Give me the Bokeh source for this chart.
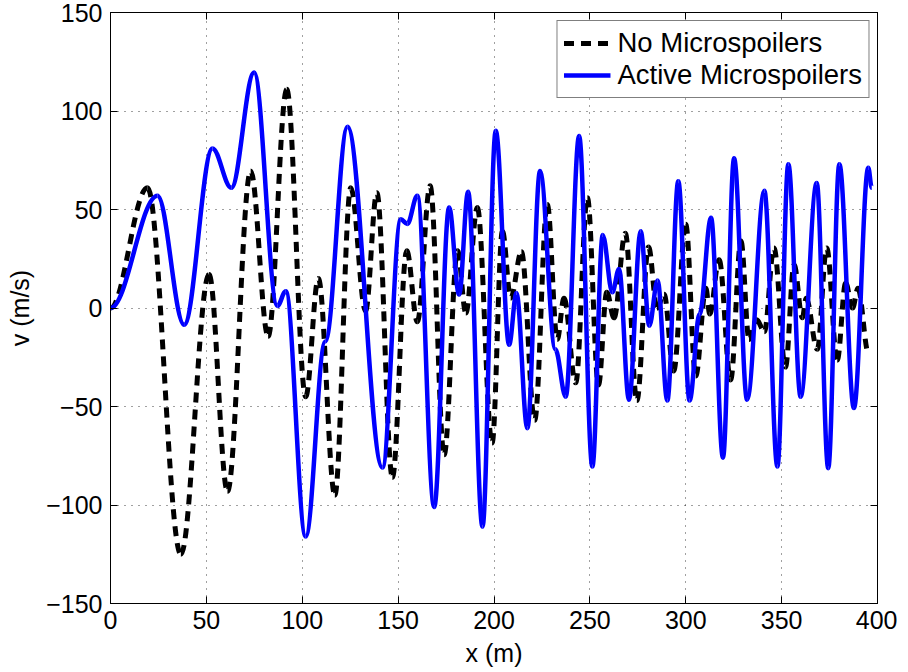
import numpy as np
from bokeh.plotting import figure
from bokeh.models import LinearAxis, FixedTicker, Range1d, Legend, LegendItem
from bokeh.embed import file_html
from bokeh.resources import INLINE

# ---- data (local extrema / shoulders) ----
no_x = [0, 19.3, 36.7, 51.4, 61, 73.1, 82.2, 91.9, 101.8, 108.4, 117, 125.3, 133, 138.9,
        147, 154.5, 160, 166.7, 174, 181, 185.3, 191.3, 199, 204.4, 208.7, 214.3, 221.2,
        227.8, 233, 236.5, 242.6, 248.7, 254.5, 258.8, 262.6, 268.5, 274.5, 280.6, 285, 288.7,
        293.7, 300, 305.2, 310.5, 312.5, 317.4, 323.4, 328.8, 333, 337, 341, 346,
        352, 356.5, 360.8, 362.8, 368.6, 373.5, 379, 383.4, 387, 389.8, 395.3]
no_y = [0, 61, -125, 17, -93, 69.5, -14.4, 111, -45, 15, -95, 61, -1.5, 58.5,
        -86, 29, -7, 62, -74.5, 29, -2.5, 51, -68.5, 39, 5, 28.5, -57,
        52.5, -16, 5, -38, 56, -39, 8, -5, 38, -47, 31, 0, 7,
        -32, 42.5, -34.5, 10, -3, 24.5, -36.5, 34, -16, -6, -12, 30.5,
        -30, 22, -5, 5, -21, 30.5, -26.5, 12.7, 0, 10, -23]

act_x = [0, 24.5, 38.4, 53.2, 63, 74.9, 87, 91.4, 101.8, 112, 123.6, 141.8, 151.4, 154.8,
         160, 168.8, 176.6, 181.8, 186.5, 194, 200.9, 207.9, 211.7, 217.4, 224, 232, 237.4,
         244.4, 251.3, 256.7, 261.7, 265.2, 270.4, 276.5, 281, 285.3, 290.4, 296.1, 302,
         307.2, 313.2, 319.4, 325.2, 332, 341, 347.8, 353.5, 359.9, 368.3, 374.3, 380.1,
         387.7, 395.2, 397]
act_y = [0, 57, -8.5, 81, 61, 119.5, 1, 8.5, -116, -17, 92, -81, 45, 42.7,
         57, -101, 51, 6.8, 59, -111, 90, -18.6, 7.6, -61, 69.5, -21, -45,
         87.3, -80.5, 37, 8, 19.8, -46.6, 39, -9, 14, -47, 64.4, -47,
         -3.2, 45.8, -76, 76, -46.6, 59.5, -80.5, 73, -45, 63.5, -81.3, 73,
         -50.8, 71.2, 61]

x_ticks = [0, 50, 100, 150, 200, 250, 300, 350, 400]
x_tick_labels = ["0", "50", "100", "150", "200", "250", "300", "350", "400"]
y_ticks = [-150, -100, -50, 0, 50, 100, 150]
y_tick_labels = ["\u2212150", "\u2212100", "\u221250", "0", "50", "100", "150"]

series_labels = ["No Microspoilers", "Active Microspoilers"]

FONT = "Liberation Sans"
TICK_FS = "25px"


def smooth_segments(xs, ys, h=0.36):
    xs = np.asarray(xs, float)
    ys = np.asarray(ys, float)
    x0, x1 = xs[:-1], xs[1:]
    y0, y1 = ys[:-1], ys[1:]
    d = (x1 - x0) * h
    return dict(x0=x0, y0=y0, x1=x1, y1=y1, cx0=x0 + d, cy0=y0, cx1=x1 - d, cy1=y1)


p = figure(frame_width=767, frame_height=591,
           x_range=Range1d(0, 400), y_range=Range1d(-150, 150),
           output_backend="svg", toolbar_location=None,
           min_border_left=110, min_border_right=20, min_border_top=12, min_border_bottom=62)

p.outline_line_color = "black"
p.outline_line_width = 1
p.background_fill_color = "white"
p.border_fill_color = "white"

# grid
p.xgrid.ticker = FixedTicker(ticks=x_ticks)
p.ygrid.ticker = FixedTicker(ticks=y_ticks)
p.grid.grid_line_color = "black"
p.grid.grid_line_alpha = 0.75
p.grid.grid_line_dash = "1 6"
p.grid.grid_line_width = 1

# main axes
p.xaxis.ticker = FixedTicker(ticks=x_ticks)
p.yaxis.ticker = FixedTicker(ticks=y_ticks)
p.xaxis.major_label_overrides = {t: l for t, l in zip(x_ticks, x_tick_labels)}
p.yaxis.major_label_overrides = {t: l for t, l in zip(y_ticks, y_tick_labels)}
for ax in (p.xaxis[0], p.yaxis[0]):
    ax.axis_line_color = "black"
    ax.major_tick_line_color = "black"
    ax.major_tick_in = 7
    ax.major_tick_out = 0
    ax.minor_tick_line_color = None
    ax.major_label_text_font = FONT
    ax.major_label_text_font_size = TICK_FS
    ax.major_label_text_color = "black"
    ax.axis_label_text_font = FONT
    ax.axis_label_text_font_size = TICK_FS
    ax.axis_label_text_font_style = "normal"
    ax.axis_label_text_color = "black"
p.xaxis.axis_label = "x (m)"
p.yaxis.axis_label = "v (m/s)"
p.xaxis.major_label_standoff = 7
p.xaxis.axis_label_standoff = 7
p.yaxis.major_label_standoff = 8
p.yaxis.axis_label_standoff = 9

# box ticks on top/right
for loc, ticks in (("right", y_ticks), ("above", x_ticks)):
    ax = LinearAxis(ticker=FixedTicker(ticks=ticks),
                    major_label_overrides={t: "" for t in ticks},
                    major_label_text_font_size="0px", major_label_standoff=0,
                    major_tick_in=7, major_tick_out=0, minor_tick_line_color=None,
                    axis_line_color="black", major_tick_line_color="black")
    p.add_layout(ax, loc)

src_no = smooth_segments(no_x, no_y)
src_act = smooth_segments(act_x, act_y)

r_no = p.bezier(x0="x0", y0="y0", x1="x1", y1="y1", cx0="cx0", cy0="cy0", cx1="cx1", cy1="cy1",
                source=src_no, line_color="black", line_width=5, line_dash="10 7")
r_act = p.bezier(x0="x0", y0="y0", x1="x1", y1="y1", cx0="cx0", cy0="cy0", cx1="cx1", cy1="cy1",
                 source=src_act, line_color="#0000FF", line_width=4.5)

legend = Legend(items=[LegendItem(label=series_labels[0], renderers=[r_no]),
                       LegendItem(label=series_labels[1], renderers=[r_act])],
                location="top_right")
legend.border_line_color = "black"
legend.border_line_width = 1
legend.background_fill_color = "white"
legend.background_fill_alpha = 1
legend.margin = 8
legend.padding = 6
legend.spacing = -2
legend.label_text_font = FONT
legend.label_text_font_size = "27.5px"
legend.label_text_color = "black"
legend.glyph_width = 47
legend.glyph_height = 28
legend.label_height = 28
legend.label_standoff = 7
p.add_layout(legend)

open("out.html", "w").write(file_html(p, INLINE))
